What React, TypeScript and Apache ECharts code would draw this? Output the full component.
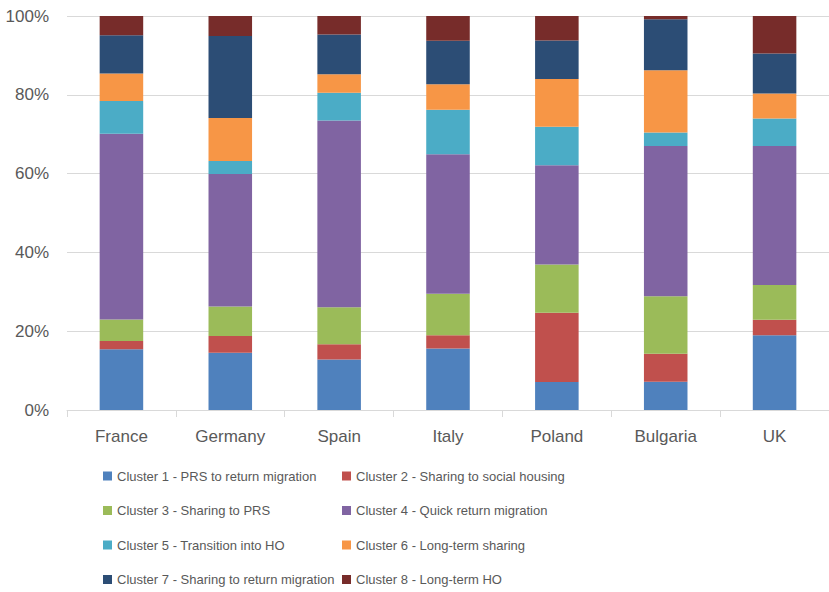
import React, { useEffect, useRef } from "react";
import * as echarts from "echarts";

const countries = ["France", "Germany", "Spain", "Italy", "Poland", "Bulgaria", "UK"];
const clusterNames = [
  "Cluster 1 - PRS to return migration",
  "Cluster 2 - Sharing to social housing",
  "Cluster 3 - Sharing to PRS",
  "Cluster 4 - Quick return migration",
  "Cluster 5 - Transition into HO",
  "Cluster 6 - Long-term sharing",
  "Cluster 7 - Sharing to return migration",
  "Cluster 8 - Long-term HO",
];
const cluster1 = [15.4, 14.5, 12.8, 15.6, 7.1, 7.2, 19.0];
const cluster2 = [2.1, 4.3, 3.9, 3.4, 17.6, 7.1, 3.9];
const cluster3 = [5.5, 7.5, 9.4, 10.5, 12.2, 14.6, 8.8];
const cluster4 = [47.1, 33.6, 47.4, 35.4, 25.2, 38.1, 35.3];
const cluster5 = [8.3, 3.3, 7.0, 11.3, 9.8, 3.4, 7.0];
const cluster6 = [7.0, 10.9, 4.7, 6.5, 12.1, 15.8, 6.3];
const cluster7 = [9.7, 20.8, 10.1, 11.0, 9.8, 13.0, 10.2];
const cluster8 = [4.9, 5.1, 4.7, 6.3, 6.2, 0.8, 9.5];
const yTicks = [0, 20, 40, 60, 80, 100];

const seriesValues = [cluster1, cluster2, cluster3, cluster4, cluster5, cluster6, cluster7, cluster8];
const colors = ["#4F81BD", "#C0504D", "#9BBB59", "#8064A2", "#4BACC6", "#F79646", "#2C4D75", "#772C2A"];

export default function App() {
  const ref = useRef<HTMLDivElement>(null);
  useEffect(() => {
    if (!ref.current) return;
    const chart = echarts.init(ref.current, undefined, { renderer: "svg" });
    const legendText = {
      color: "#595959",
      fontSize: 13,
      fontFamily: "'Liberation Sans', Arial, sans-serif",
      lineHeight: 20,
    };
    chart.setOption({
      animation: false,
      color: colors,
      grid: { left: 67, top: 16, width: 770, height: 394, containLabel: false },
      legend: [
        {
          orient: "vertical",
          left: 103,
          top: 466,
          padding: 0,
          itemGap: 14.5,
          itemWidth: 9,
          itemHeight: 9,
          icon: "rect",
          textStyle: legendText,
          data: [clusterNames[0], clusterNames[2], clusterNames[4], clusterNames[6]],
        },
        {
          orient: "vertical",
          left: 342,
          top: 466,
          padding: 0,
          itemGap: 14.5,
          itemWidth: 9,
          itemHeight: 9,
          icon: "rect",
          textStyle: legendText,
          data: [clusterNames[1], clusterNames[3], clusterNames[5], clusterNames[7]],
        },
      ],
      xAxis: {
        type: "category",
        data: countries,
        axisLine: { lineStyle: { color: "#d9d9d9", width: 1 } },
        axisTick: { show: true, length: 7, lineStyle: { color: "#d9d9d9" } },
        axisLabel: {
          color: "#595959",
          fontSize: 17,
          fontFamily: "'Liberation Sans', Arial, sans-serif",
          margin: 18,
        },
      },
      yAxis: {
        type: "value",
        min: 0,
        max: 100,
        interval: 20,
        axisLine: { show: false },
        axisTick: { show: false },
        splitLine: { lineStyle: { color: "#d9d9d9", width: 1 } },
        axisLabel: {
          color: "#595959",
          fontSize: 17,
          fontFamily: "'Liberation Sans', Arial, sans-serif",
          margin: 18,
          formatter: (v: number) => (yTicks.includes(v) ? v + "%" : ""),
        },
      },
      series: seriesValues.map((vals, i) => ({
        name: clusterNames[i],
        type: "bar",
        stack: "total",
        barWidth: "40%",
        data: vals,
        itemStyle: { color: colors[i] },
      })),
    });
    return () => chart.dispose();
  }, []);
  return <div ref={ref} style={{ width: 829, height: 592, position: "absolute", left: 0, top: 0 }} />;
}
